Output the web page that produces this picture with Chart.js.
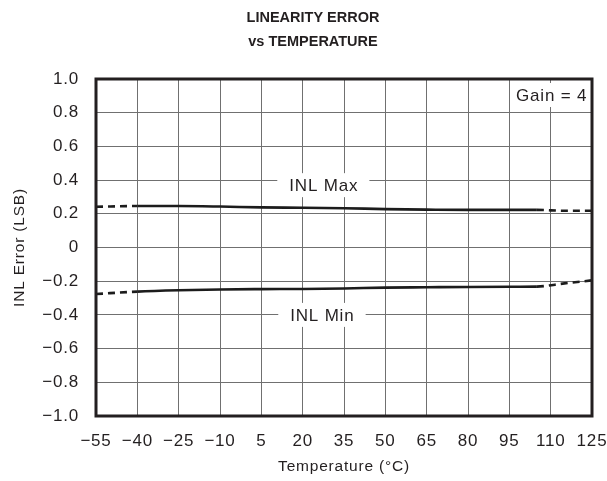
<!DOCTYPE html>
<html>
<head>
<meta charset="utf-8">
<title>Linearity Error vs Temperature</title>
<script src="https://cdn.jsdelivr.net/npm/chart.js@4/dist/chart.umd.min.js"></script>
<style>
  html, body { margin: 0; padding: 0; background: #fff; }
  #wrap { width: 607px; height: 481px; }
</style>
</head>
<body>
<div id="wrap"><canvas id="chart" width="607" height="481"></canvas></div>
<script>
// Temperature points (°C) and measured INL limits (LSB), Gain = 4
const temps  = [-55, -40, -25, -10, 5, 20, 35, 50, 65, 80, 95, 105, 115, 125];
const inlMax = [0.242, 0.246, 0.246, 0.243, 0.238, 0.236, 0.233, 0.228, 0.225, 0.223, 0.223, 0.223, 0.218, 0.218];
const inlMin = [-0.276, -0.262, -0.254, -0.249, -0.247, -0.246, -0.243, -0.238, -0.236, -0.234, -0.233, -0.232, -0.213, -0.195];

// Axis ticks
const xTicks = [-55, -40, -25, -10, 5, 20, 35, 50, 65, 80, 95, 110, 125];
const xTickLabels = ['\u221255', '\u221240', '\u221225', '\u221210', '5', '20', '35', '50', '65', '80', '95', '110', '125'];
const yTicks = [-1.0, -0.8, -0.6, -0.4, -0.2, 0, 0.2, 0.4, 0.6, 0.8, 1.0];
const yTickLabels = ['\u22121.0', '\u22120.8', '\u22120.6', '\u22120.4', '\u22120.2', '0', '0.2', '0.4', '0.6', '0.8', '1.0'];

// Solid over the specified range, dashed outside it
const specLow = -40;
const specHigh = 105;

const titleLines = ['LINEARITY ERROR', 'vs TEMPERATURE'];
const seriesNames = ['INL Max', 'INL Min'];
const gainNote = 'Gain = 4';

const FONT = '"Liberation Sans", Arial, Helvetica, sans-serif';
const INK = '#231f20';
const TRACKING = '0.8px';

const toPoints = (ys) => temps.map((t, i) => ({ x: t, y: ys[i] }));

const segStyle = {
  borderDash: (ctx) => (ctx.p0.parsed.x < specLow || ctx.p0.parsed.x >= specHigh) ? [7, 5] : undefined
};

// Lightly tracked lettering for all chart text
const tracking = {
  id: 'tracking',
  beforeLayout(chart) { chart.ctx.letterSpacing = TRACKING; },
  beforeDraw(chart) { chart.ctx.letterSpacing = TRACKING; }
};

// Title, boxed series labels, gain note and frame
const decorations = {
  id: 'decorations',
  afterDatasetsDraw(chart) {
    const { ctx, chartArea: a, scales: { x, y } } = chart;
    ctx.save();

    // Frame around the plot
    ctx.strokeStyle = INK;
    ctx.lineWidth = 3;
    ctx.strokeRect(a.left, a.top, a.right - a.left, a.bottom - a.top);

    // Labels with white backing over the grid
    ctx.letterSpacing = TRACKING;
    ctx.font = '17px ' + FONT;
    ctx.textBaseline = 'middle';
    ctx.textAlign = 'left';
    const boxed = [
      { text: seriesNames[0], px: x.getPixelForValue(27.5), py: y.getPixelForValue(0.37), padX: 12 },
      { text: seriesNames[1], px: x.getPixelForValue(27), py: y.getPixelForValue(-0.40), padX: 12 },
      { text: gainNote, px: x.getPixelForValue(110.2), py: y.getPixelForValue(0.905), padX: 3 }
    ];
    boxed.forEach(b => {
      const w = ctx.measureText(b.text).width - 0.8;
      ctx.fillStyle = '#fff';
      ctx.fillRect(b.px - w / 2 - b.padX, b.py - 12, w + 2 * b.padX, 24);
      ctx.fillStyle = INK;
      ctx.fillText(b.text, b.px - w / 2, b.py + 1);
    });

    // Chart title
    ctx.letterSpacing = '0px';
    ctx.textAlign = 'center';
    ctx.font = 'bold 14.5px ' + FONT;
    ctx.fillStyle = INK;
    ctx.fillText(titleLines[0], 313, 18);
    ctx.fillText(titleLines[1], 313, 42);
    ctx.restore();
  }
};

new Chart(document.getElementById('chart'), {
  type: 'line',
  data: {
    datasets: [
      { label: seriesNames[0], data: toPoints(inlMax), segment: segStyle },
      { label: seriesNames[1], data: toPoints(inlMin), segment: segStyle }
    ]
  },
  options: {
    responsive: false,
    animation: false,
    events: [],
    layout: { padding: { left: 0, top: 79, right: 0, bottom: 0 } },
    elements: {
      point: { radius: 0 },
      line: { borderColor: '#1c1c1c', borderWidth: 2.6, cubicInterpolationMode: 'monotone', fill: false, borderCapStyle: 'butt' }
    },
    plugins: {
      legend: { display: false },
      title: { display: false },
      tooltip: { enabled: false }
    },
    scales: {
      x: {
        type: 'linear',
        min: -55,
        max: 125,
        afterBuildTicks: (s) => { s.ticks = xTicks.map(v => ({ value: v })); },
        afterFit: (s) => { s.height = 65; s.paddingLeft = 0; s.paddingRight = 15; },
        ticks: {
          autoSkip: false,
          maxRotation: 0,
          padding: 15,
          color: INK,
          font: { family: FONT, size: 17 },
          callback: (v) => xTickLabels[xTicks.indexOf(v)]
        },
        grid: { color: '#707070', lineWidth: 1, drawTicks: false },
        border: { display: false },
        title: {
          display: true,
          text: 'Temperature (\u00B0C)',
          color: INK,
          font: { family: FONT, size: 15.5 },
          padding: { top: 0, bottom: 5 }
        }
      },
      y: {
        type: 'linear',
        min: -1,
        max: 1,
        afterBuildTicks: (s) => { s.ticks = yTicks.map(v => ({ value: v })); },
        afterFit: (s) => { s.width = 96; s.paddingTop = 0; s.paddingBottom = 0; },
        ticks: {
          autoSkip: false,
          padding: 17,
          color: INK,
          font: { family: FONT, size: 17 },
          callback: (v) => yTickLabels[yTicks.findIndex(t => Math.abs(t - v) < 1e-9)]
        },
        grid: { color: '#707070', lineWidth: 1, drawTicks: false },
        border: { display: false },
        title: {
          display: true,
          text: 'INL Error (LSB)',
          color: INK,
          font: { family: FONT, size: 15.5 },
          padding: { top: 10, bottom: 0 }
        }
      }
    }
  },
  plugins: [tracking, decorations]
});
</script>
</body>
</html>
